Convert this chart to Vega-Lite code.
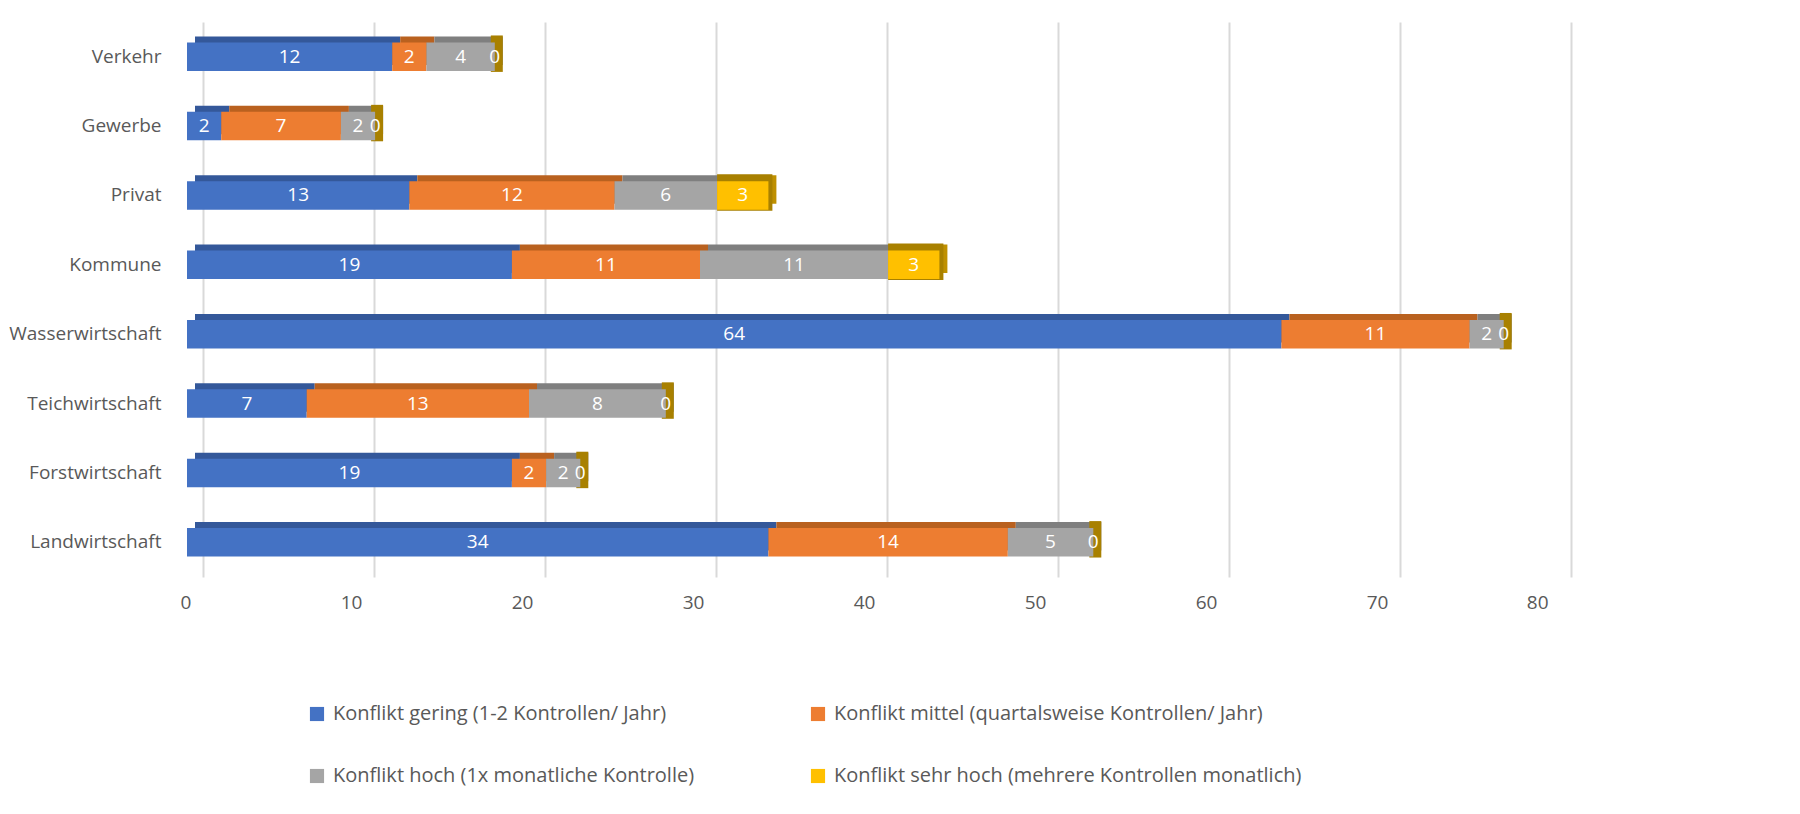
{
  "$schema": "https://vega.github.io/schema/vega-lite/v6.json",
  "width": 1368,
  "height": 555,
  "autosize": {"type": "none"},
  "padding": {"left": 187, "top": 22, "right": 245, "bottom": 237},
  "background": "white",
  "config": {
    "font": "Open Sans",
    "view": {"stroke": null}
  },
  "data": {
    "values": [
      {"sektor": "Verkehr", "stufe": "Konflikt gering (1-2 Kontrollen/ Jahr)", "ord": 1, "anzahl": 12},
      {"sektor": "Verkehr", "stufe": "Konflikt mittel (quartalsweise Kontrollen/ Jahr)", "ord": 2, "anzahl": 2},
      {"sektor": "Verkehr", "stufe": "Konflikt hoch (1x monatliche Kontrolle)", "ord": 3, "anzahl": 4},
      {"sektor": "Verkehr", "stufe": "Konflikt sehr hoch (mehrere Kontrollen monatlich)", "ord": 4, "anzahl": 0},
      {"sektor": "Gewerbe", "stufe": "Konflikt gering (1-2 Kontrollen/ Jahr)", "ord": 1, "anzahl": 2},
      {"sektor": "Gewerbe", "stufe": "Konflikt mittel (quartalsweise Kontrollen/ Jahr)", "ord": 2, "anzahl": 7},
      {"sektor": "Gewerbe", "stufe": "Konflikt hoch (1x monatliche Kontrolle)", "ord": 3, "anzahl": 2},
      {"sektor": "Gewerbe", "stufe": "Konflikt sehr hoch (mehrere Kontrollen monatlich)", "ord": 4, "anzahl": 0},
      {"sektor": "Privat", "stufe": "Konflikt gering (1-2 Kontrollen/ Jahr)", "ord": 1, "anzahl": 13},
      {"sektor": "Privat", "stufe": "Konflikt mittel (quartalsweise Kontrollen/ Jahr)", "ord": 2, "anzahl": 12},
      {"sektor": "Privat", "stufe": "Konflikt hoch (1x monatliche Kontrolle)", "ord": 3, "anzahl": 6},
      {"sektor": "Privat", "stufe": "Konflikt sehr hoch (mehrere Kontrollen monatlich)", "ord": 4, "anzahl": 3},
      {"sektor": "Kommune", "stufe": "Konflikt gering (1-2 Kontrollen/ Jahr)", "ord": 1, "anzahl": 19},
      {"sektor": "Kommune", "stufe": "Konflikt mittel (quartalsweise Kontrollen/ Jahr)", "ord": 2, "anzahl": 11},
      {"sektor": "Kommune", "stufe": "Konflikt hoch (1x monatliche Kontrolle)", "ord": 3, "anzahl": 11},
      {"sektor": "Kommune", "stufe": "Konflikt sehr hoch (mehrere Kontrollen monatlich)", "ord": 4, "anzahl": 3},
      {"sektor": "Wasserwirtschaft", "stufe": "Konflikt gering (1-2 Kontrollen/ Jahr)", "ord": 1, "anzahl": 64},
      {"sektor": "Wasserwirtschaft", "stufe": "Konflikt mittel (quartalsweise Kontrollen/ Jahr)", "ord": 2, "anzahl": 11},
      {"sektor": "Wasserwirtschaft", "stufe": "Konflikt hoch (1x monatliche Kontrolle)", "ord": 3, "anzahl": 2},
      {"sektor": "Wasserwirtschaft", "stufe": "Konflikt sehr hoch (mehrere Kontrollen monatlich)", "ord": 4, "anzahl": 0},
      {"sektor": "Teichwirtschaft", "stufe": "Konflikt gering (1-2 Kontrollen/ Jahr)", "ord": 1, "anzahl": 7},
      {"sektor": "Teichwirtschaft", "stufe": "Konflikt mittel (quartalsweise Kontrollen/ Jahr)", "ord": 2, "anzahl": 13},
      {"sektor": "Teichwirtschaft", "stufe": "Konflikt hoch (1x monatliche Kontrolle)", "ord": 3, "anzahl": 8},
      {"sektor": "Teichwirtschaft", "stufe": "Konflikt sehr hoch (mehrere Kontrollen monatlich)", "ord": 4, "anzahl": 0},
      {"sektor": "Forstwirtschaft", "stufe": "Konflikt gering (1-2 Kontrollen/ Jahr)", "ord": 1, "anzahl": 19},
      {"sektor": "Forstwirtschaft", "stufe": "Konflikt mittel (quartalsweise Kontrollen/ Jahr)", "ord": 2, "anzahl": 2},
      {"sektor": "Forstwirtschaft", "stufe": "Konflikt hoch (1x monatliche Kontrolle)", "ord": 3, "anzahl": 2},
      {"sektor": "Forstwirtschaft", "stufe": "Konflikt sehr hoch (mehrere Kontrollen monatlich)", "ord": 4, "anzahl": 0},
      {"sektor": "Landwirtschaft", "stufe": "Konflikt gering (1-2 Kontrollen/ Jahr)", "ord": 1, "anzahl": 34},
      {"sektor": "Landwirtschaft", "stufe": "Konflikt mittel (quartalsweise Kontrollen/ Jahr)", "ord": 2, "anzahl": 14},
      {"sektor": "Landwirtschaft", "stufe": "Konflikt hoch (1x monatliche Kontrolle)", "ord": 3, "anzahl": 5},
      {"sektor": "Landwirtschaft", "stufe": "Konflikt sehr hoch (mehrere Kontrollen monatlich)", "ord": 4, "anzahl": 0}
    ]
  },
  "encoding": {
    "y": {
      "field": "sektor",
      "type": "nominal",
      "sort": ["Verkehr", "Gewerbe", "Privat", "Kommune", "Wasserwirtschaft", "Teichwirtschaft", "Forstwirtschaft", "Landwirtschaft"],
      "scale": {"paddingInner": 0.59, "paddingOuter": 0.295},
      "axis": {
        "title": null,
        "domain": false,
        "ticks": false,
        "labelFontSize": 19,
        "labelColor": "#595959",
        "labelPadding": 26
      }
    }
  },
  "resolve": {"scale": {"color": "independent"}},
  "layer": [
    {
      "mark": {"type": "bar", "xOffset": 8, "yOffset": -6},
      "encoding": {
        "x": {
          "field": "anzahl",
          "type": "quantitative",
          "stack": "zero",
          "scale": {"domain": [0, 80], "nice": false},
          "axis": {
            "title": null,
            "domain": false,
            "ticks": false,
            "values": [0, 10, 20, 30, 40, 50, 60, 70, 80],
            "grid": true,
            "gridColor": "#d9d9d9",
            "gridWidth": 2,
            "tickOffset": 16,
            "labelOffset": -23,
            "labelFontSize": 19,
            "labelColor": "#595959",
            "labelPadding": 16
          }
        },
        "order": {"field": "ord", "type": "quantitative"},
        "color": {
          "field": "stufe",
          "type": "nominal",
          "scale": {
            "domain": ["Konflikt gering (1-2 Kontrollen/ Jahr)", "Konflikt mittel (quartalsweise Kontrollen/ Jahr)", "Konflikt hoch (1x monatliche Kontrolle)", "Konflikt sehr hoch (mehrere Kontrollen monatlich)"],
            "range": ["#34589A", "#B9611F", "#7F7F7F", "#BF9000"]
          },
          "legend": null
        }
      }
    },
    {
      "transform": [
        {"stack": "anzahl", "groupby": ["sektor"], "sort": [{"field": "ord"}], "as": ["s0", "s1"]},
        {"filter": "datum.ord == 4"}
      ],
      "mark": {"type": "bar", "xOffset": 4, "yOffset": -3, "fill": "#BF9000", "stroke": "#A88000", "strokeWidth": 8},
      "encoding": {
        "x": {"field": "s0", "type": "quantitative"},
        "x2": {"field": "s1"}
      }
    },
    {
      "mark": {"type": "bar"},
      "encoding": {
        "x": {"field": "anzahl", "type": "quantitative", "stack": "zero"},
        "order": {"field": "ord", "type": "quantitative"},
        "color": {
          "field": "stufe",
          "type": "nominal",
          "scale": {
            "domain": ["Konflikt gering (1-2 Kontrollen/ Jahr)", "Konflikt mittel (quartalsweise Kontrollen/ Jahr)", "Konflikt hoch (1x monatliche Kontrolle)", "Konflikt sehr hoch (mehrere Kontrollen monatlich)"],
            "range": ["#4472C4", "#ED7D31", "#A5A5A5", "#FFC000"]
          },
          "legend": {
            "title": null,
            "orient": "none",
            "legendX": 120,
            "legendY": 682,
            "direction": "horizontal",
            "columns": 2,
            "columnPadding": 113,
            "rowPadding": 42,
            "symbolType": "square",
            "symbolSize": 200,
            "symbolStrokeWidth": 0,
            "labelFontSize": 20,
            "labelColor": "#595959",
            "labelLimit": 600,
            "labelOffset": 6
          }
        }
      }
    },
    {
      "mark": {"type": "text", "color": "white", "fontSize": 19, "align": "center", "baseline": "middle"},
      "encoding": {
        "x": {"field": "anzahl", "type": "quantitative", "stack": "zero", "bandPosition": 0.5},
        "order": {"field": "ord", "type": "quantitative"},
        "text": {"field": "anzahl", "type": "quantitative"}
      }
    }
  ]
}
